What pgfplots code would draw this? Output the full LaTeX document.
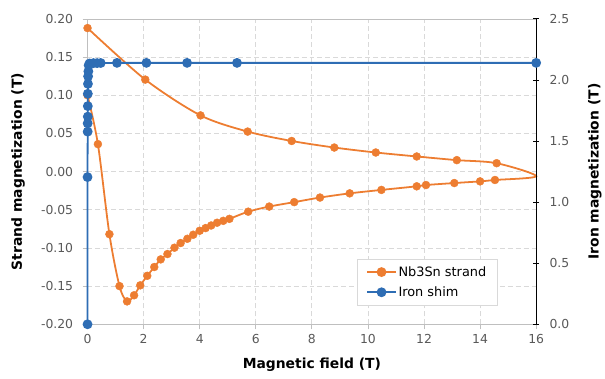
\documentclass[border=0pt]{standalone}
\usepackage{pgfplots}
\pgfplotsset{compat=1.18}
\usepackage{fontspec}
\setmainfont{DejaVu Sans}
\definecolor{orng}{HTML}{ED7D31}
\definecolor{blu}{HTML}{2E6DB4}
\definecolor{gridc}{HTML}{D9D9D9}
\definecolor{axc}{HTML}{BFBFBF}
\definecolor{tickc}{HTML}{595959}
\begin{document}
\begin{tikzpicture}
\pgfplotsset{every axis/.append style={
  scale only axis, width=451bp, height=307bp, xmin=0, xmax=16, clip=false,
  /pgf/number format/assume math mode=true,
  tick label style={font=\fontsize{12.5}{14}\selectfont, text=tickc},
  label style={font=\bfseries\fontsize{14}{16}\selectfont},
}}
\begin{axis}[
  ymin=-0.2, ymax=0.2,
  ytick={-0.2,-0.15,-0.1,-0.05,0,0.05,0.1,0.15,0.2},
  xtick={0,2,4,6,8,10,12,14,16},
  yticklabel style={xshift=-6bp, /pgf/number format/.cd, fixed, fixed zerofill, precision=2},
  xticklabel style={yshift=-2bp},
  grid=major,
  grid style={gridc, line width=0.8pt, dash pattern=on 5pt off 3pt},
  axis line style={axc, line width=0.8pt},
  tick style={axc, line width=0.8pt},
  tick align=outside, major tick length=5bp,
  xtick pos=bottom, ytick pos=left,
  xlabel={Magnetic field (T)},
  ylabel={Strand magnetization (T)},
  xlabel style={at={(axis description cs:0.5,-0.134)}, anchor=center},
  ylabel style={at={(axis description cs:-0.155,0.5)}, anchor=center},
]
\addplot[orng, line width=1.8pt, smooth, tension=0.5] coordinates {
(0,0.10) (0.37,0.036) (0.78,-0.082) (1.14,-0.150) (1.41,-0.170) (1.66,-0.162)
(1.88,-0.149) (2.13,-0.1365) (2.38,-0.125) (2.61,-0.115) (2.85,-0.108)
(3.10,-0.0997) (3.32,-0.0936) (3.56,-0.088) (3.77,-0.0827) (4.00,-0.0775)
(4.21,-0.074) (4.41,-0.0706) (4.62,-0.067) (4.84,-0.0645) (5.06,-0.0619)
(5.73,-0.0525) (6.48,-0.0458) (7.37,-0.040) (8.29,-0.034) (9.35,-0.0285)
(10.48,-0.024) (11.74,-0.0193) (12.07,-0.0176) (13.08,-0.015) (14.0,-0.0128)
(14.53,-0.011) (16.0,-0.006) (14.59,0.011) (13.17,0.015) (11.74,0.0198)
(10.28,0.025) (8.80,0.0315) (7.28,0.0401) (5.71,0.0524) (4.03,0.0736)
(2.06,0.1205) (0,0.188)
};
\addplot[only marks, mark=*, mark size=4bp, orng] coordinates {
(0,0.10) (0.37,0.036) (0.78,-0.082) (1.14,-0.150) (1.41,-0.170) (1.66,-0.162)
(1.88,-0.149) (2.13,-0.1365) (2.38,-0.125) (2.61,-0.115) (2.85,-0.108)
(3.10,-0.0997) (3.32,-0.0936) (3.56,-0.088) (3.77,-0.0827) (4.00,-0.0775)
(4.21,-0.074) (4.41,-0.0706) (4.62,-0.067) (4.84,-0.0645) (5.06,-0.0619)
(5.73,-0.0525) (6.48,-0.0458) (7.37,-0.040) (8.29,-0.034) (9.35,-0.0285)
(10.48,-0.024) (11.74,-0.0193) (12.07,-0.0176) (13.08,-0.015) (14.0,-0.0128)
(14.53,-0.011) (14.59,0.011) (13.17,0.015) (11.74,0.0198)
(10.28,0.025) (8.80,0.0315) (7.28,0.0401) (5.71,0.0524) (4.03,0.0736)
(2.06,0.1205) (0,0.188)
};
\end{axis}
\begin{axis}[
  ymin=0, ymax=2.5,
  ytick={0,0.5,1,1.5,2,2.5},
  yticklabel style={xshift=7bp, /pgf/number format/.cd, fixed, fixed zerofill, precision=1},
  axis x line=none,
  axis y line*=right,
  axis line style={black, line width=0.8pt, -},
  tick style={black, line width=0.8pt},
  tick align=center, major tick length=6bp,
  ylabel={Iron magnetization (T)},
  ylabel style={at={(axis description cs:1.131,0.5)}, anchor=center, rotate=0},
  legend style={at={(0.9135,0.063)}, anchor=south east, draw=gridc, fill=white,
    font=\fontsize{13}{15}\selectfont, row sep=5pt, inner xsep=9pt, inner ysep=5pt},
  legend cell align=left,
  legend image code/.code={%
    \draw[mark repeat=2,mark phase=2] plot coordinates {(0cm,0cm) (0.5cm,0cm) (1cm,0cm)};},
]
\addlegendimage{orng, line width=1.8pt, mark=*, mark size=4bp}
\addlegendentry{Nb3Sn strand}
\addplot[blu, line width=1.8pt, mark=*, mark size=4bp, mark options={fill=blu}] coordinates {
(0,0.0) (0,1.205) (0.005,1.577) (0.005,1.645) (0.01,1.70) (0.01,1.786)
(0.01,1.887) (0.015,1.968) (0.02,2.03) (0.03,2.071) (0.04,2.12) (0.07,2.135)
(0.21,2.138) (0.34,2.138) (0.47,2.139) (1.05,2.14) (2.1,2.14) (3.55,2.14)
(5.33,2.14) (16,2.14)
};
\addlegendentry{Iron shim}
\end{axis}
\path[use as bounding box] (-88bp,-54bp) rectangle (517bp,326bp);
\end{tikzpicture}
\end{document}
